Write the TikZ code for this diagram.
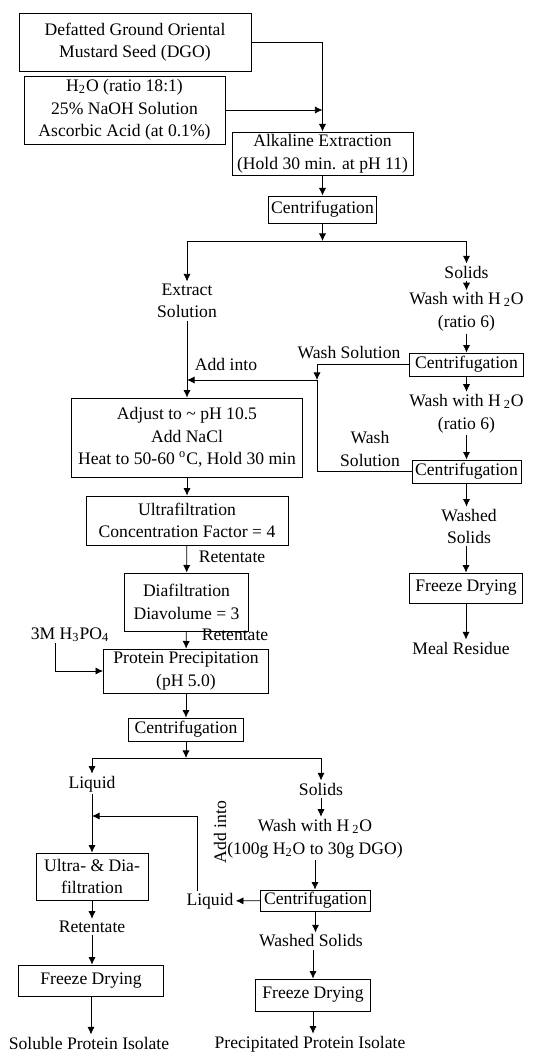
\documentclass[tikz,border=0pt]{standalone}
\usepackage{fontspec}
\setmainfont{Liberation Serif}
\usepackage{tikz}
\usetikzlibrary{arrows.meta,
calc
}
\tikzset{%
  box/.style={draw, thin, align=center, inner sep=1pt}, % the process steps
  lbl/.style={align=center, inner sep=1pt}, % streams written without a frame
  every path/.style={thin}
}

\begin{document}
\begin{tikzpicture}[x=0.5pt, y=-0.5pt, >={Latex[length=3.8pt, width=3.6pt]}, font=\fontsize{8.8}{11.3}\selectfont]
\useasboundingbox (0,0) rectangle (560,1053);

\node[box, minimum width=116pt, minimum height=29pt] (dgo) at (135,42) {Defatted Ground Oriental\\Mustard Seed (DGO)};
\node[box, minimum width=100.5pt, minimum height=34pt] (reag) at (124.5,110) {H\textsubscript{2}O (ratio 18:1)\\25\% NaOH Solution\\Ascorbic Acid (at 0.1\%)};
\node[box, minimum width=90.5pt, minimum height=21.5pt] (alk) at (322.5,153.5) {Alkaline Extraction\\(Hold 30 min. at pH 11)};
\node[box, minimum width=54pt, minimum height=13.5pt] (cenA) at (322.5,209.5) {Centrifugation};
\coordinate (splitA) at (322.5,241);
\draw[->] (dgo) -| (alk);
\draw[->] (reag) -- (reag -| alk);
\draw[->] (alk) -- (cenA);
\draw[->] (cenA) -- (splitA);

\node[lbl] (extr) at (187,301) {Extract\\Solution};
\node[lbl] (solA) at (466.5,272) {Solids};
\node[lbl] (washA) at (466.5,312) {Wash with H\,\textsubscript{2}O\\(ratio 6)};
\node[box, minimum width=57pt, minimum height=11.5pt] (cenB) at (466.5,364.5) {Centrifugation};
\node[lbl] (wsA) at (349,353) {Wash Solution};
\node[lbl] (addA) at (226,364) {Add into};
\coordinate (merge) at (317,380);
\node[lbl] (washB) at (466.5,413.5) {Wash with H\,\textsubscript{2}O\\(ratio 6)};
\node[box, minimum width=54.5pt, minimum height=11.5pt] (cenC) at (466.5,471.5) {Centrifugation};
\node[lbl] (wsB) at (370,449) {Wash\\Solution};
\draw[->] (splitA) -| (extr);
\draw[->] (splitA) -| (solA);
\draw[->] (solA) -- (washA);
\draw[->] (washA) -- (cenB);
\draw[->] (cenB) -- (washB);
\draw[->] (washB) -- (cenC);
\draw[->] (cenB) -| (merge);
\draw (cenC) -| (merge);
\draw[->] (merge) -- (merge -| extr);

\node[box, minimum width=115.5pt, minimum height=39.5pt] (adj) at (187,437.5) {Adjust to \textasciitilde{} pH 10.5\\Add NaCl\\Heat to 50-60 \textsuperscript{o}C, Hold 30 min};
\node[box, minimum width=101pt, minimum height=24.5pt] (uf) at (187,520.5) {Ultrafiltration\\Concentration Factor = 4};
\node[lbl] (retA) at (232,557) {Retentate};
\node[box, minimum width=62pt, minimum height=29pt] (df) at (186.5,602) {Diafiltration\\Diavolume = 3};
\node[lbl] (retB) at (235,635) {Retentate};
\node[lbl] (acid) at (70,635) {3M H\textsubscript{3}PO\textsubscript{4}};
\coordinate (acidin) at (55,643);
\node[box, minimum width=82.5pt, minimum height=22pt] (pp) at (186,671) {Protein Precipitation\\(pH 5.0)};
\draw[->] (extr) -- (adj);
\draw[->] (adj) -- (uf);
\draw[->] (uf) -- (df);
\draw[->] (df) -- (pp);
\draw[->] (acidin) |- (pp);

\node[lbl] (washedA) at (469,526.5) {Washed\\Solids};
\node[box, minimum width=56.5pt, minimum height=15pt] (fdA) at (466,588) {Freeze Drying};
\node[lbl] (meal) at (461,648) {Meal Residue};
\draw[->] (cenC) -- (cenC |- washedA.north);
\draw[->] (washedA.south -| fdA) -- (fdA);
\draw[->] (fdA) -- (fdA |- meal.north);

\node[box, minimum width=57.5pt, minimum height=11.5pt] (cenD) at (186,729.5) {Centrifugation};
\coordinate (splitB) at (186,758);
\node[lbl] (liqA) at (92,784) {Liquid};
\node[lbl] (solB) at (321,789) {Solids};
\node[lbl] (washC) at (315,838.5) {Wash with H\,\textsubscript{2}O\\(100g H\textsubscript{2}O to 30g DGO)};
\node[lbl, rotate=90] (addB) at (220,832) {Add into};
\coordinate (loop) at (197,816);
\draw[->] (pp) -- (cenD);
\draw[->] (cenD) -- (splitB);
\draw[->] (splitB) -| (liqA);
\draw[->] (splitB) -| (solB);
\draw[->] (solB) -- (solB |- washC.north);

\node[box, minimum width=56pt, minimum height=23.5pt] (udf) at (92,876.5) {Ultra- \& Dia-\\filtration};
\node[lbl] (retC) at (92,927) {Retentate};
\node[box, minimum width=72.5pt, minimum height=15.5pt] (fdB) at (91,980.5) {Freeze Drying};
\node[lbl] (sol) at (89,1043) {Soluble Protein Isolate};
\draw[->] (liqA) -- (udf);
\draw[->] (udf) -- (retC);
\draw[->] (retC) -- (retC |- fdB.north);
\draw[->] (fdB) -- (fdB |- sol.north);

\node[box, minimum width=55pt, minimum height=10.5pt] (cenE) at (315.5,900.5) {Centrifugation};
\node[lbl] (liqB) at (210,901) {Liquid};
\node[lbl] (washedB) at (311,941) {Washed Solids};
\node[box, minimum width=57.5pt, minimum height=16pt] (fdC) at (313,995) {Freeze Drying};
\node[lbl] (prec) at (310,1044) {Precipitated Protein Isolate};
\draw[->] (washC) -- (washC |- cenE.north);
\draw[->] (cenE) -- (liqB);
\draw[->] (liqB.north -| loop) -- (loop) -- (loop -| liqA);
\draw[->] (cenE) -- (cenE |- washedB.north);
\draw[->] (washedB.south -| fdC) -- (fdC);
\draw[->] (fdC) -- (fdC |- prec.north);
\end{tikzpicture}
\end{document}
